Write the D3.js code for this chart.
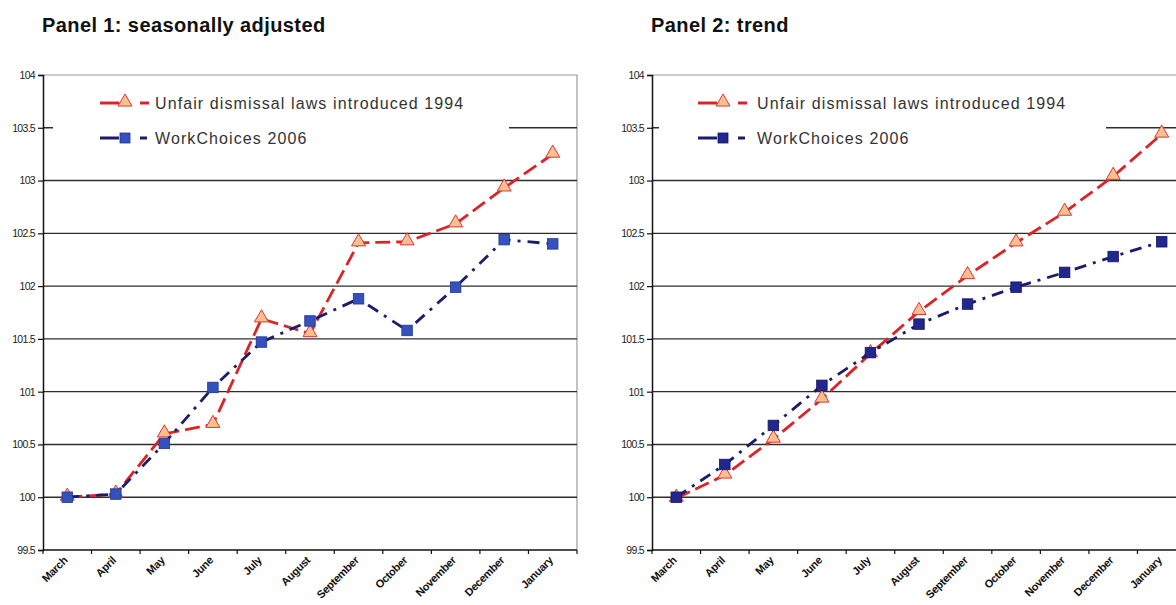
<!DOCTYPE html>
<html>
<head>
<meta charset="utf-8">
<script src="https://cdn.jsdelivr.net/npm/d3@7"></script>
<style>
  html, body { margin: 0; padding: 0; background: #fff; }
  svg { display: block; }
</style>
</head>
<body>
<svg id="chart" width="1176" height="605"></svg>
<script>
// ---------------- data ----------------
const months = ["March","April","May","June","July","August","September","October","November","December","January"];
const yTicks = [99.5, 100, 100.5, 101, 101.5, 102, 102.5, 103, 103.5, 104];
const yTickLabels = ["99.5","100","100.5","101","101.5","102","102.5","103","103.5","104"];
const seriesNames = ["Unfair dismissal laws introduced 1994", "WorkChoices 2006"];
const panelTitles = ["Panel 1: seasonally adjusted", "Panel 2: trend"];

// Panel 1: seasonally adjusted
const saUnfair = [100.00, 100.03, 100.60, 100.69, 101.69, 101.55, 102.41, 102.42, 102.59, 102.93, 103.25];
const saWork   = [100.00, 100.03, 100.51, 101.04, 101.47, 101.67, 101.88, 101.58, 101.99, 102.44, 102.40];
// Panel 2: trend
const trUnfair = [99.99, 100.21, 100.55, 100.93, 101.36, 101.76, 102.10, 102.41, 102.70, 103.04, 103.44];
const trWork   = [100.00, 100.31, 100.68, 101.06, 101.37, 101.64, 101.83, 101.99, 102.13, 102.28, 102.42];

// ---------------- drawing ----------------
const svg = d3.select("#chart");

const panels = [
  { title: panelTitles[0], left: 43, unfair: saUnfair, work: saWork,
    legend: { x0: 53, x1: 509, sample: 100, text: 155 },
    squareFill: "#3452bd", squareStroke: "#23348f" },
  { title: panelTitles[1], left: 652, unfair: trUnfair, work: trWork,
    legend: { x0: 659, x1: 1106, sample: 698, text: 757 },
    squareFill: "#22268f", squareStroke: "#14165e" }
];

const plotTop = 75, plotBottom = 550, plotWidth = 534;
const redLine = "#dc2327", navyLine = "#1b1d6b";
const triFill = "#f9bf8e", triStroke = "#d8383a";

panels.forEach(p => {
  const g = svg.append("g");
  const x = d3.scaleBand().domain(months).range([p.left, p.left + plotWidth]).paddingInner(0).paddingOuter(0);
  const y = d3.scaleLinear().domain([99.5, 104]).range([plotBottom, plotTop]);

  // title
  g.append("text")
    .attr("x", p.left - 1).attr("y", 32)
    .attr("font-family", "Liberation Sans, Arial, sans-serif")
    .attr("font-weight", "bold").attr("font-size", 20)
    .attr("letter-spacing", 0.4)
    .attr("fill", "#111")
    .text(p.title);

  // plot frame (top + right) light gray
  g.append("path")
    .attr("d", `M${p.left},${plotTop}H${p.left + plotWidth}V${plotBottom}`)
    .attr("fill", "none").attr("stroke", "#9a9a9a").attr("stroke-width", 1.2);

  // gridlines
  g.selectAll("line.grid").data(yTicks.filter(v => v > 99.5 && v < 104))
    .join("line").attr("class", "grid")
    .attr("x1", p.left).attr("x2", p.left + plotWidth)
    .attr("y1", d => y(d)).attr("y2", d => y(d))
    .attr("stroke", "#2e2e2e").attr("stroke-width", 1.4);

  // legend background (covers part of gridline)
  g.append("rect")
    .attr("x", p.legend.x0).attr("y", 84)
    .attr("width", p.legend.x1 - p.legend.x0).attr("height", 80)
    .attr("fill", "#fff");

  // y axis
  const yAxis = d3.axisLeft(y).tickValues(yTicks)
    .tickFormat((d, i) => yTickLabels[i]).tickSize(5).tickPadding(3);
  const ya = g.append("g").attr("transform", `translate(${p.left},0)`).call(yAxis);
  ya.select(".domain").attr("stroke", "#111").attr("stroke-width", 1.5);
  ya.selectAll(".tick line").attr("stroke", "#111").attr("stroke-width", 1.2);
  ya.selectAll(".tick text")
    .attr("font-family", "Liberation Sans, Arial, sans-serif")
    .attr("font-size", 10.5).attr("letter-spacing", -0.7).attr("fill", "#222");

  // x axis line and boundary ticks
  g.append("line")
    .attr("x1", p.left).attr("x2", p.left + plotWidth)
    .attr("y1", plotBottom).attr("y2", plotBottom)
    .attr("stroke", "#111").attr("stroke-width", 1.5);
  const bounds = d3.range(months.length + 1).map(i => x.range()[0] + i * x.step());
  g.selectAll("line.xt").data(bounds).join("line").attr("class", "xt")
    .attr("x1", d => d).attr("x2", d => d)
    .attr("y1", plotBottom).attr("y2", plotBottom + 4)
    .attr("stroke", "#111").attr("stroke-width", 1.2);
  g.selectAll("text.xl").data(months).join("text").attr("class", "xl")
    .attr("transform", d => `translate(${x(d) + x.bandwidth() / 2 + 1},${plotBottom + 11}) rotate(-45)`)
    .attr("text-anchor", "end")
    .attr("font-family", "Liberation Sans, Arial, sans-serif")
    .attr("font-size", 11).attr("font-weight", "bold").attr("letter-spacing", -0.3)
    .attr("fill", "#111")
    .text(d => d);

  const cx = (d, i) => x(months[i]) + x.bandwidth() / 2;
  const line = d3.line().x((d, i) => cx(d, i)).y(d => y(d));

  // series 1 : unfair dismissal (red long dash, triangles)
  g.append("path").datum(p.unfair)
    .attr("d", line).attr("fill", "none")
    .attr("stroke", redLine).attr("stroke-width", 2.8)
    .attr("stroke-dasharray", "15,6");
  const tri = d3.symbol().type(d3.symbolTriangle).size(85);
  g.selectAll("path.tri").data(p.unfair).join("path").attr("class", "tri")
    .attr("d", tri)
    .attr("transform", (d, i) => `translate(${cx(d, i)},${y(d) - 1})`)
    .attr("fill", triFill).attr("stroke", triStroke).attr("stroke-width", 1);

  // series 2 : WorkChoices (navy dash-dot, squares)
  g.append("path").datum(p.work)
    .attr("d", line).attr("fill", "none")
    .attr("stroke", navyLine).attr("stroke-width", 2.8)
    .attr("stroke-dasharray", "12,7,3,7");
  const sq = 10.5;
  g.selectAll("rect.sq").data(p.work).join("rect").attr("class", "sq")
    .attr("x", (d, i) => cx(d, i) - sq / 2).attr("y", d => y(d) - sq / 2)
    .attr("width", sq).attr("height", sq)
    .attr("fill", p.squareFill).attr("stroke", p.squareStroke).attr("stroke-width", 0.8);

  // legend
  const L = p.legend;
  const ly = [103, 138];
  // red sample
  g.append("line").attr("x1", L.sample).attr("x2", L.sample + 19).attr("y1", ly[0]).attr("y2", ly[0])
    .attr("stroke", redLine).attr("stroke-width", 3);
  g.append("line").attr("x1", L.sample + 40).attr("x2", L.sample + 49).attr("y1", ly[0]).attr("y2", ly[0])
    .attr("stroke", redLine).attr("stroke-width", 3);
  g.append("path").attr("d", tri)
    .attr("transform", `translate(${L.sample + 25},${ly[0] - 1})`)
    .attr("fill", triFill).attr("stroke", triStroke).attr("stroke-width", 1);
  // navy sample
  g.append("line").attr("x1", L.sample).attr("x2", L.sample + 19).attr("y1", ly[1]).attr("y2", ly[1])
    .attr("stroke", navyLine).attr("stroke-width", 3);
  g.append("line").attr("x1", L.sample + 40).attr("x2", L.sample + 47).attr("y1", ly[1]).attr("y2", ly[1])
    .attr("stroke", navyLine).attr("stroke-width", 3);
  g.append("rect").attr("x", L.sample + 20).attr("y", ly[1] - 5).attr("width", 10).attr("height", 10)
    .attr("fill", p.squareFill).attr("stroke", p.squareStroke).attr("stroke-width", 0.8);
  g.selectAll("text.lg").data(seriesNames).join("text").attr("class", "lg")
    .attr("x", L.text).attr("y", (d, i) => ly[i] + 5.5)
    .attr("font-family", "Liberation Sans, Arial, sans-serif")
    .attr("font-size", 16).attr("letter-spacing", 1.1)
    .attr("fill", "#333")
    .text(d => d);
});
</script>
</body>
</html>
